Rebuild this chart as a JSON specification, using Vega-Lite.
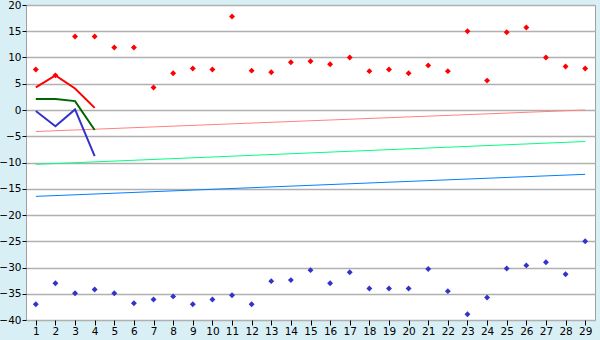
{
  "$schema": "https://vega.github.io/schema/vega-lite/v6.json",
  "autosize": {"type": "none"},
  "width": 569,
  "height": 315,
  "padding": {"left": 26, "top": 5, "right": 5, "bottom": 20},
  "background": "#d9eff6",
  "config": {
    "view": {"fill": "#ffffff", "stroke": "#a0a0a0", "strokeWidth": 1},
    "axis": {"labelFont": "DejaVu Sans", "labelFontSize": 10.5, "labelColor": "#000000", "tickColor": "#000000", "domain": false, "title": null, "labelOverlap": false},
    "axisY": {"tickCount": 20, "grid": true, "gridColor": "#b0b0b0", "gridWidth": 1.5, "tickSize": 4, "labelPadding": 1, "labelFlush": false}
  },
  "datasets": {
    "pts": [
      {"x": 1, "max": 7.7, "min": -37.0},
      {"x": 2, "max": 6.6, "min": -33.0},
      {"x": 3, "max": 14.0, "min": -34.9},
      {"x": 4, "max": 14.0, "min": -34.2},
      {"x": 5, "max": 11.9, "min": -34.9},
      {"x": 6, "max": 11.9, "min": -36.8},
      {"x": 7, "max": 4.3, "min": -36.1},
      {"x": 8, "max": 7.0, "min": -35.5},
      {"x": 9, "max": 7.9, "min": -37.0},
      {"x": 10, "max": 7.7, "min": -36.1},
      {"x": 11, "max": 17.8, "min": -35.3},
      {"x": 12, "max": 7.5, "min": -37.0},
      {"x": 13, "max": 7.2, "min": -32.6},
      {"x": 14, "max": 9.1, "min": -32.4},
      {"x": 15, "max": 9.3, "min": -30.5},
      {"x": 16, "max": 8.7, "min": -33.0},
      {"x": 17, "max": 10.0, "min": -30.9},
      {"x": 18, "max": 7.4, "min": -34.0},
      {"x": 19, "max": 7.7, "min": -34.0},
      {"x": 20, "max": 7.0, "min": -34.0},
      {"x": 21, "max": 8.5, "min": -30.3},
      {"x": 22, "max": 7.4, "min": -34.5},
      {"x": 23, "max": 15.0, "min": -38.9},
      {"x": 24, "max": 5.6, "min": -35.7},
      {"x": 25, "max": 14.8, "min": -30.2},
      {"x": 26, "max": 15.7, "min": -29.6},
      {"x": 27, "max": 10.0, "min": -29.0},
      {"x": 28, "max": 8.3, "min": -31.3},
      {"x": 29, "max": 7.9, "min": -25.0}
    ],
    "lines": [
      {"x": 1, "series": "a", "v": 4.3},
      {"x": 2, "series": "a", "v": 6.6},
      {"x": 3, "series": "a", "v": 4.1},
      {"x": 4, "series": "a", "v": 0.4},
      {"x": 1, "series": "b", "v": 2.1},
      {"x": 2, "series": "b", "v": 2.1},
      {"x": 3, "series": "b", "v": 1.7},
      {"x": 4, "series": "b", "v": -3.8},
      {"x": 1, "series": "c", "v": -0.2},
      {"x": 2, "series": "c", "v": -3.1},
      {"x": 3, "series": "c", "v": 0.1},
      {"x": 4, "series": "c", "v": -8.8}
    ],
    "trend": [
      {"x": 1, "series": "ta", "v": -4.1},
      {"x": 29, "series": "ta", "v": 0.0},
      {"x": 1, "series": "tb", "v": -10.35},
      {"x": 29, "series": "tb", "v": -6.0},
      {"x": 1, "series": "tc", "v": -16.45},
      {"x": 29, "series": "tc", "v": -12.25}
    ]
  },
  "encoding": {
    "x": {
      "field": "x", "type": "quantitative",
      "scale": {"domain": [0.5, 29.5], "nice": false, "zero": false},
      "axis": {"values": [1,2,3,4,5,6,7,8,9,10,11,12,13,14,15,16,17,18,19,20,21,22,23,24,25,26,27,28,29], "tickCount": 40, "grid": false, "tickSize": 5, "labelPadding": 1, "labelFlush": false}
    }
  },
  "layer": [
    {
      "data": {"name": "trend"},
      "mark": {"type": "line", "strokeWidth": 1},
      "encoding": {
        "y": {"field": "v", "type": "quantitative", "scale": {"domain": [-40, 20], "nice": false, "zero": false}, "axis": {"tickCount": 20, "values": [-40,-35,-30,-25,-20,-15,-10,-5,0,5,10,15,20]}},
        "color": {"field": "series", "type": "nominal", "scale": {"domain": ["ta","tb","tc","a","b","c"], "range": ["#ff8080","#00ff80","#0080ff","#ff0000","#006600","#3333cc"]}, "legend": null}
      }
    },
    {
      "data": {"name": "lines"},
      "mark": {"type": "line", "strokeWidth": 2},
      "encoding": {
        "y": {"field": "v", "type": "quantitative"},
        "color": {"field": "series", "type": "nominal", "legend": null}
      }
    },
    {
      "data": {"name": "pts"},
      "mark": {"type": "point", "shape": "diamond", "filled": true, "size": 35, "color": "#ff0000", "opacity": 1},
      "encoding": {"y": {"field": "max", "type": "quantitative"}}
    },
    {
      "data": {"name": "pts"},
      "mark": {"type": "point", "shape": "diamond", "filled": true, "size": 35, "color": "#3333cc", "opacity": 1},
      "encoding": {"y": {"field": "min", "type": "quantitative"}}
    }
  ]
}
